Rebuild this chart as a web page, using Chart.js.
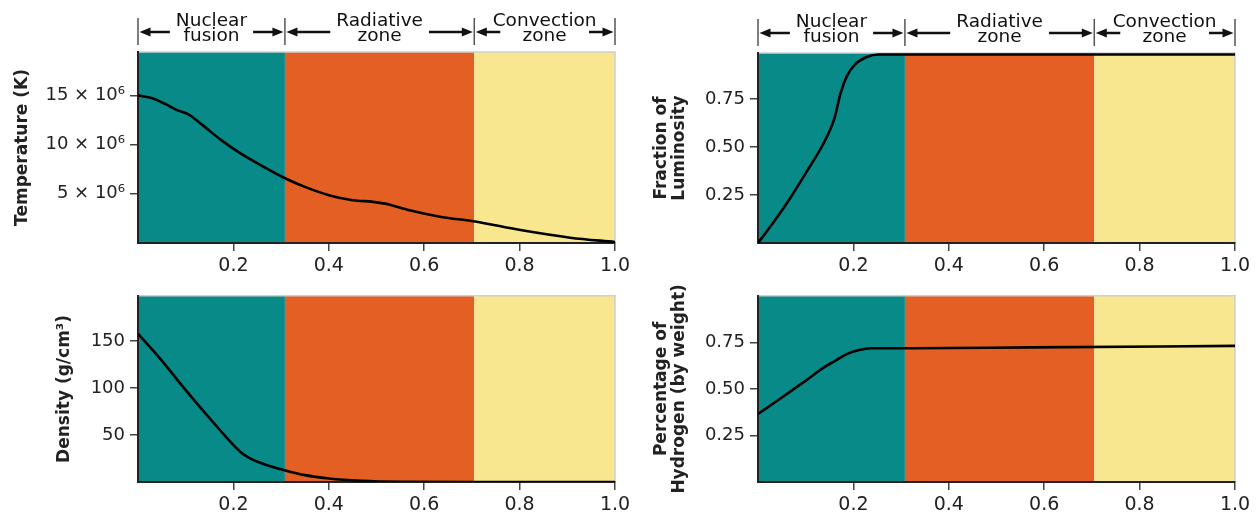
<!DOCTYPE html>
<html>
<head>
<meta charset="utf-8">
<title>Solar interior profiles</title>
<script src="https://cdn.jsdelivr.net/npm/chart.js@4.4.1/dist/chart.umd.min.js"></script>
<style>
  html, body { margin: 0; padding: 0; background: #fff; }
  #wrap { position: relative; width: 1260px; height: 516px; overflow: hidden; }
  #wrap canvas { position: absolute; }
</style>
</head>
<body>
<div id="wrap">
  <canvas id="tempChart" width="640" height="280" style="left:0;top:0"></canvas>
  <canvas id="densChart" width="640" height="236" style="left:0;top:280px"></canvas>
  <canvas id="lumChart"  width="630" height="280" style="left:630px;top:0"></canvas>
  <canvas id="hydChart"  width="630" height="236" style="left:630px;top:280px"></canvas>
</div>
<script>
// ─── zones (fraction of solar radius) ───────────────────────────────
const zoneEdges  = [0, 0.308, 0.705, 1.0];
const zoneNames  = [['Nuclear', 'fusion'], ['Radiative', 'zone'], ['Convection', 'zone']];
const zoneColors = ['#088a89', '#e35f24', '#f8e78f'];
const xTicks     = [0.2, 0.4, 0.6, 0.8, 1.0];

// ─── temperature (millions of K) ────────────────────────────────────
const tempR = [0, 0.03, 0.058, 0.082, 0.105, 0.135, 0.173, 0.215, 0.257, 0.307, 0.35, 0.40, 0.45, 0.493, 0.518, 0.569, 0.636, 0.703, 0.805, 0.906, 1.0];
const tempK = [15.0, 14.7, 14.1, 13.5, 13.1, 12.0, 10.5, 9.1, 7.9, 6.6, 5.7, 4.86, 4.35, 4.18, 4.0, 3.33, 2.65, 2.21, 1.29, 0.54, 0.1];
const tempTicks = [5, 10, 15];

// ─── fraction of luminosity ─────────────────────────────────────────
const lumR    = [0, 0.034, 0.068, 0.101, 0.135, 0.160, 0.173, 0.186, 0.203, 0.228, 0.253, 0.4, 0.6, 0.8, 1.0];
const lumFrac = [0, 0.113, 0.236, 0.368, 0.508, 0.648, 0.78, 0.868, 0.929, 0.969, 0.982, 0.982, 0.982, 0.982, 0.982];
const lumTicks = [0.25, 0.5, 0.75];

// ─── density (g/cm³) ────────────────────────────────────────────────
const densR   = [0, 0.046, 0.088, 0.131, 0.173, 0.215, 0.232, 0.265, 0.307, 0.35, 0.40, 0.468, 0.552, 0.7, 1.0];
const densVal = [157.7, 131.5, 105.2, 79.0, 54.5, 31.8, 25.9, 18.9, 12.6, 7.3, 3.8, 1.4, 0.3, 0, 0];
const densTicks = [50, 100, 150];

// ─── hydrogen fraction (by weight) ──────────────────────────────────
const hydR    = [0, 0.035, 0.069, 0.103, 0.136, 0.162, 0.187, 0.212, 0.238, 0.322, 0.575, 1.0];
const hydFrac = [0.365, 0.427, 0.488, 0.55, 0.612, 0.651, 0.688, 0.709, 0.718, 0.718, 0.723, 0.731];
const hydTicks = [0.25, 0.5, 0.75];

const FONT = 'DejaVu Sans';
const INK = '#222';

// zone colour bands behind everything (drawn before the axes)
const zonesPlugin = {
  id: 'zones',
  beforeDraw(chart) {
    const { ctx, chartArea: a, scales: { x } } = chart;
    ctx.save();
    zoneColors.forEach((c, i) => {
      const x0 = x.getPixelForValue(zoneEdges[i]);
      const x1 = x.getPixelForValue(zoneEdges[i + 1]);
      ctx.fillStyle = c;
      ctx.fillRect(x0, a.top, x1 - x0, a.bottom - a.top);
    });
    ctx.strokeStyle = '#cfcfcf';
    ctx.lineWidth = 1.5;
    ctx.beginPath();
    ctx.moveTo(a.left, a.top); ctx.lineTo(a.right, a.top); ctx.lineTo(a.right, a.bottom);
    ctx.stroke();
    ctx.restore();
  }
};

function arrow(ctx, from, to, y) {
  const dir = Math.sign(to - from);
  ctx.beginPath(); ctx.moveTo(from, y); ctx.lineTo(to - dir * 8, y); ctx.stroke();
  ctx.beginPath();
  ctx.moveTo(to, y); ctx.lineTo(to - dir * 11, y - 4.5); ctx.lineTo(to - dir * 11, y + 4.5);
  ctx.closePath(); ctx.fill();
}

// |← Nuclear fusion →|← Radiative zone →|← Convection zone →|
const headerPlugin = {
  id: 'zoneHeader',
  afterDraw(chart) {
    const { ctx, chartArea: a, scales: { x } } = chart;
    ctx.save();
    ctx.strokeStyle = '#555';
    ctx.lineWidth = 1.5;
    zoneEdges.forEach(v => {
      const px = x.getPixelForValue(v);
      ctx.beginPath(); ctx.moveTo(px, a.top - 34); ctx.lineTo(px, a.top - 7); ctx.stroke();
    });
    ctx.font = `18.5px "${FONT}"`;
    ctx.textAlign = 'center';
    ctx.textBaseline = 'middle';
    ctx.fillStyle = '#111';
    ctx.strokeStyle = '#111';
    ctx.lineWidth = 2.5;
    zoneNames.forEach((lines, i) => {
      const x0 = x.getPixelForValue(zoneEdges[i]);
      const x1 = x.getPixelForValue(zoneEdges[i + 1]);
      const cx = (x0 + x1) / 2;
      lines.forEach((t, j) => ctx.fillText(t, cx, a.top - 31 + j * 15.5));
      const w = Math.max(...lines.map(t => ctx.measureText(t).width));
      const len = Math.max(26, (x1 - x0 - w) / 2 - 6);
      arrow(ctx, x0 + len, x0 + 1.5, a.top - 20);
      arrow(ctx, x1 - len, x1 - 1.5, a.top - 20);
    });
    ctx.restore();
  }
};

function makePanel(id, o) {
  const tickGrid = {
    drawOnChartArea: false, drawTicks: true, tickLength: 8, color: '#444', lineWidth: 1.5,
  };
  return new Chart(document.getElementById(id), {
    type: 'line',
    data: {
      datasets: [{
        data: o.r.map((r, i) => ({ x: r, y: o.v[i] })),
        borderColor: '#000', borderWidth: 2.6, pointRadius: 0,
        cubicInterpolationMode: 'monotone', fill: false,
      }],
    },
    options: {
      responsive: false, animation: false, events: [],
      layout: { padding: o.pad },
      plugins: { legend: { display: false }, tooltip: { enabled: false } },
      scales: {
        x: {
          type: 'linear', min: 0, max: 1,
          afterBuildTicks: s => { s.ticks = xTicks.map(v => ({ value: v })); },
          afterFit: s => { s.height = o.xh; },
          grid: tickGrid,
          border: { color: INK, width: 2 },
          ticks: {
            font: { family: FONT, size: 19 }, color: INK, padding: 4,
            maxRotation: 0, autoSkip: false, callback: v => v.toFixed(1),
          },
        },
        y: {
          type: 'linear', min: 0, max: o.yMax,
          afterBuildTicks: s => { s.ticks = o.ticks.map(v => ({ value: v })); },
          afterFit: s => { s.width = o.yw; },
          grid: tickGrid,
          border: { color: INK, width: 2 },
          ticks: { font: { family: FONT, size: 18 }, color: INK, padding: 5, callback: o.fmt },
          title: {
            display: true, text: o.title, color: INK,
            font: { family: FONT, size: 17, weight: 'bold', lineHeight: 1.05 },
            padding: { top: o.titlePad, bottom: 0 },
          },
        },
      },
    },
    plugins: o.header ? [zonesPlugin, headerPlugin] : [zonesPlugin],
  });
}

makePanel('tempChart', {
  r: tempR, v: tempK, ticks: tempTicks, yMax: 19.4, fmt: v => `${v} × 10⁶`,
  title: 'Temperature (K)', titlePad: 14, header: true,
  pad: { top: 52, right: 25, bottom: 0, left: 0 }, yw: 138, xh: 37,
});
makePanel('densChart', {
  r: densR, v: densVal, ticks: densTicks, yMax: 198, fmt: v => String(v),
  title: 'Density (g/cm³)', titlePad: 56, header: false,
  pad: { top: 12, right: 25, bottom: 0, left: 0 }, yw: 138, xh: 34,
});
makePanel('lumChart', {
  r: lumR, v: lumFrac, ticks: lumTicks, yMax: 0.99, fmt: v => v.toFixed(2),
  title: ['Fraction of', 'Luminosity'], titlePad: 23, header: true,
  pad: { top: 53, right: 25, bottom: 0, left: 0 }, yw: 128, xh: 37,
});
makePanel('hydChart', {
  r: hydR, v: hydFrac, ticks: hydTicks, yMax: 1.0, fmt: v => v.toFixed(2),
  title: ['Percentage of', 'Hydrogen (by weight)'], titlePad: 23, header: false,
  pad: { top: 10, right: 25, bottom: 0, left: 0 }, yw: 128, xh: 34,
});
</script>
</body>
</html>
